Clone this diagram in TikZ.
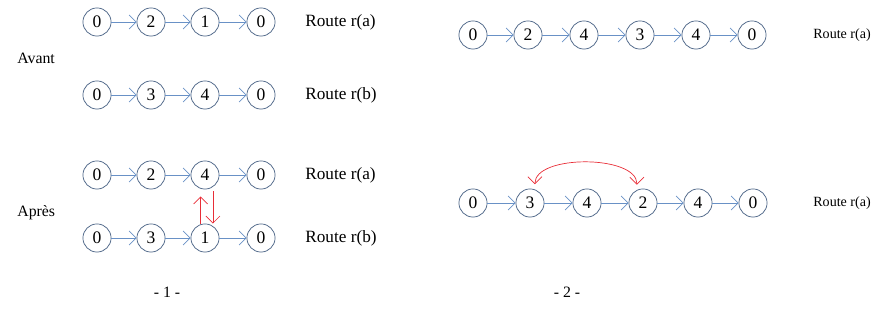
\documentclass[tikz,border=0pt]{standalone}
\usepackage{fontspec}
\setmainfont{Liberation Serif}
\usetikzlibrary{arrows.meta}
\definecolor{clientblue}{RGB}{70,95,130}
\definecolor{arcblue}{RGB}{105,145,198}
\definecolor{swapred}{RGB}{232,45,55}

\begin{document}
\begin{tikzpicture}[x=0.02cm, y=-0.02cm, >={Straight Barb[length=4pt,width=8pt]},
  client/.style={circle, draw=clientblue, thin, minimum size=16pt, inner sep=0pt, font=\fontsize{10}{12}\selectfont},
  arc/.style={->, arcblue, thin},
  swap/.style={swapred, thin},
  caption/.style={anchor=west, inner sep=0pt, font=\fontsize{9.8}{12}\selectfont},
  smallcaption/.style={caption, font=\fontsize{8}{10}\selectfont},
  sidecaption/.style={caption, font=\fontsize{9}{11}\selectfont}]
  % Fix the page size
  \useasboundingbox (0,0) rectangle (877,320);

  % Panel 1, before: route r(a)
  \node[client] (ava1) at (97,22) {0};
  \node[client] (ava2) at (151,22) {2};
  \node[client] (ava3) at (205,22) {1};
  \node[client] (ava4) at (261,22) {0};
  \draw[arc] (ava1) -- (ava2);
  \draw[arc] (ava2) -- (ava3);
  \draw[arc] (ava3) -- (ava4);
  \node[caption] (ravA) at (305,22) {Route r(a)};

  % Panel 1, before: route r(b)
  \node[client] (avb1) at (97,95) {0};
  \node[client] (avb2) at (151,95) {3};
  \node[client] (avb3) at (205,95) {4};
  \node[client] (avb4) at (261,95) {0};
  \draw[arc] (avb1) -- (avb2);
  \draw[arc] (avb2) -- (avb3);
  \draw[arc] (avb3) -- (avb4);
  \node[caption] (ravB) at (305,95) {Route r(b)};

  \node[sidecaption] (avant) at (17,58) {Avant};

  % Panel 1, after: route r(a)
  \node[client] (apa1) at (97,175) {0};
  \node[client] (apa2) at (151,175) {2};
  \node[client] (apa3) at (205,175) {4};
  \node[client] (apa4) at (261,175) {0};
  \draw[arc] (apa1) -- (apa2);
  \draw[arc] (apa2) -- (apa3);
  \draw[arc] (apa3) -- (apa4);
  \node[caption] (rapA) at (305,175) {Route r(a)};

  % Panel 1, after: route r(b)
  \node[client] (apb1) at (97,238) {0};
  \node[client] (apb2) at (151,238) {3};
  \node[client] (apb3) at (205,238) {1};
  \node[client] (apb4) at (261,238) {0};
  \draw[arc] (apb1) -- (apb2);
  \draw[arc] (apb2) -- (apb3);
  \draw[arc] (apb3) -- (apb4);
  \node[caption] (rapB) at (305,238) {Route r(b)};

  \node[sidecaption] (apres) at (17,213) {Après};

  % Exchange between the two routes
  \draw[swap,->,shorten >=4pt] ([xshift=-2.5pt]apb3.north) -- ([xshift=-2.5pt]apa3.south);
  \draw[swap,->,shorten <=1pt] ([xshift=4.5pt]apa3.south) -- ([xshift=4.5pt]apb3.north);

  % Panel 2, before
  \node[client] (fa1) at (473,35) {0};
  \node[client] (fa2) at (528,35) {2};
  \node[client] (fa3) at (584,35) {4};
  \node[client] (fa4) at (640,35) {3};
  \node[client] (fa5) at (696,35) {4};
  \node[client] (fa6) at (752,35) {0};
  \draw[arc] (fa1) -- (fa2);
  \draw[arc] (fa2) -- (fa3);
  \draw[arc] (fa3) -- (fa4);
  \draw[arc] (fa4) -- (fa5);
  \draw[arc] (fa5) -- (fa6);
  \node[smallcaption] (rfa) at (813,35) {Route r(a)};

  % Panel 2, after
  \node[client] (fb1) at (473,203) {0};
  \node[client] (fb2) at (530,203) {3};
  \node[client] (fb3) at (587,203) {4};
  \node[client] (fb4) at (643,203) {2};
  \node[client] (fb5) at (698,203) {4};
  \node[client] (fb6) at (753,203) {0};
  \draw[arc] (fb1) -- (fb2);
  \draw[arc] (fb2) -- (fb3);
  \draw[arc] (fb3) -- (fb4);
  \draw[arc] (fb4) -- (fb5);
  \draw[arc] (fb5) -- (fb6);
  \node[smallcaption] (rfb) at (813,203) {Route r(a)};

  % Exchange inside the route
  \draw[swap,<->,shorten <=3pt,shorten >=3pt] (fb2.70) .. controls ([yshift=20pt]fb2.70) and ([yshift=20pt]fb4.115) .. (fb4.115);

  % Panel numbers
  \node[sidecaption,anchor=center] (num1) at (167,292) {- 1 -};
  \node[sidecaption,anchor=center] (num2) at (567,292) {- 2 -};
\end{tikzpicture}
\end{document}
